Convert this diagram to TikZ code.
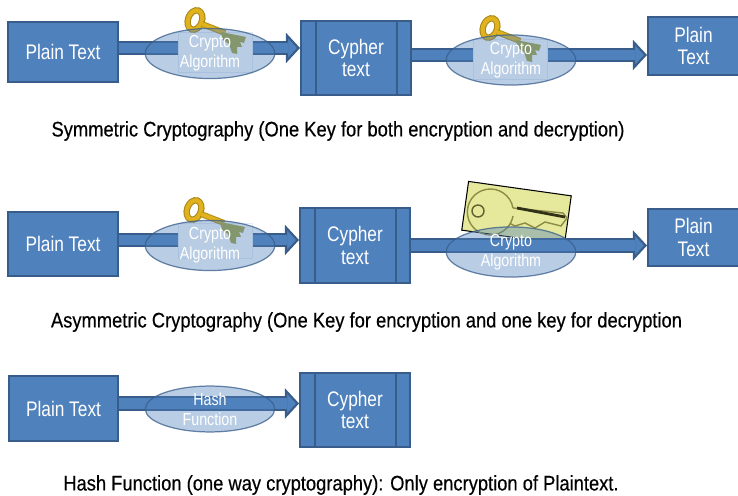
\documentclass[tikz,border=0pt]{standalone}
\usepackage{fontspec}
\setmainfont[FakeStretch=0.82]{Liberation Sans}
\newfontfamily\capfont[FakeStretch=0.87,FakeBold=0.4]{Liberation Sans}
\usepackage{xcolor}
\usetikzlibrary{shapes,arrows,positioning,calc,arrows.meta}

\definecolor{boxblue}{HTML}{4F81BD}
\definecolor{edgeblue}{HTML}{385D8A}
\definecolor{keygold}{HTML}{E0B31E}
\definecolor{keyolive}{HTML}{A6A43A}
\definecolor{cardyellow}{HTML}{E6E99C}
\definecolor{cardline}{HTML}{8C8C45}

\tikzset{
    plainbox/.style={draw=edgeblue, line width=1.3pt, fill=boxblue, text=white, align=center,
        font=\fontsize{12}{12.6}\selectfont, inner sep=0pt},
    cypherbox/.style={plainbox, minimum width=62.4pt, minimum height=42pt,
        path picture={
            \draw[edgeblue, line width=1.3pt] ([xshift=8.6pt]path picture bounding box.north west) -- ([xshift=8.6pt]path picture bounding box.south west);
            \draw[edgeblue, line width=1.3pt] ([xshift=-8pt]path picture bounding box.north east) -- ([xshift=-8pt]path picture bounding box.south east);
        }},
    algo/.style={ellipse, draw=edgeblue, line width=0.7pt, fill=boxblue, fill opacity=0.4, draw opacity=0.75, text opacity=1,
        text=white, align=center, font=\fontsize{9.9}{11.2}\selectfont, inner sep=0pt, minimum width=73.7pt},
    gapbox/.style={draw=boxblue!15, line width=0.3pt, fill=white, inner sep=0pt, minimum width=42pt},
    flowarrow/.style={edgeblue, line width=8pt,
        -{Triangle[width=17pt, length=8pt, line width=1.2pt, fill=boxblue, color=edgeblue]},
        postaction={draw=boxblue, line width=5.8pt, -, shorten >=7pt}},
    caption/.style={font=\capfont\fontsize{12}{12}\selectfont, text=black, inner sep=0pt},
    goldkey/.pic={
        \draw[keygold!75!black, line width=3.6pt, rotate=-20] (0,0) ellipse (7 and 10);
        \draw[keygold, line width=2.4pt, rotate=-20] (0,0) ellipse (7 and 10);
        \draw[keygold!80!black, line width=3.4pt] (7,4) -- (30,13);
        \draw[keygold, line width=2.2pt] (7,4) -- (30,13);
        \fill[keyolive] (26,12) -- (51,17) -- (49,23) -- (45,22) -- (47,27) -- (42,27) -- (42,34) -- (37,33) -- (34,24) -- (28,20) -- cycle;
    },
    cardkey/.pic={
        \draw[cardline, line width=0.8pt] (23,-4) arc (-10:-350:23) (23,-4) -- (73,1) -- (77,6) -- (71,14) -- (55,10) -- (45,16) -- (35,11) -- (25,14) -- (21,12);
        \draw[cardline!70!black, line width=0.8pt] (-12,-1) circle (6);
        \draw[black!65!cardline, line width=1.6pt] (27,-4) -- (75,5);
    }
}

\begin{document}
\begin{tikzpicture}[x=0.02cm, y=-0.02cm]
    \useasboundingbox (0,0) rectangle (738,496);

    % first row
    \node[plainbox, minimum width=62.4pt, minimum height=34pt] (plainA) at (63,52) {Plain Text};
    \node[cypherbox, minimum height=42pt] (cypherA) at (356,58) {Cypher\\text};
    \node[plainbox, minimum width=51.6pt, minimum height=32.9pt, anchor=west] (plainB) at (647,46) {Plain\\Text};
    \coordinate (levelA) at (0,48);
    \coordinate (levelB) at (0,55);
    \draw[flowarrow] (plainA.east |- levelA) -- (cypherA.west |- levelA);
    \draw[flowarrow] (cypherA.east |- levelB) -- (plainB.west |- levelB);
    \node[gapbox, minimum height=23pt] (gapA) at (215,52) {};
    \node[gapbox, minimum height=23pt] (gapB) at (510,59) {};
    \pic at (195,20) {goldkey};
    \pic at (490,28) {goldkey};
    \node[algo, minimum height=25.5pt] (algoA) at (210,53.5) {Crypto\\Algorithm};
    \node[algo, minimum height=26pt] (algoB) at (511,60) {Crypto\\Algorithm};
    \node[caption] (capA) at (338,131) {Symmetric Cryptography (One Key for both encryption and decryption)};

    % second row
    \node[plainbox, minimum width=62.4pt, minimum height=36.3pt] (plainC) at (63,244) {Plain Text};
    \node[cypherbox, minimum height=42.5pt] (cypherB) at (355,245.5) {Cypher\\text};
    \node[plainbox, minimum width=51.6pt, minimum height=32.3pt, anchor=west] (plainD) at (647,237.5) {Plain\\Text};
    \coordinate (levelC) at (0,240);
    \coordinate (levelD) at (0,245.5);
    \draw[flowarrow] (plainC.east |- levelC) -- (cypherB.west |- levelC);
    \node[gapbox, minimum height=20pt] (gapC) at (215,241) {};
    \pic at (194,210) {goldkey};
    \node[draw=black, line width=0.6pt, fill=cardyellow, minimum width=59pt, minimum height=28pt, rotate=-8, inner sep=0pt] (card) at (516.5,213) {};
    \pic at (490,212) {cardkey};
    \draw[flowarrow] (cypherB.east |- levelD) -- (plainD.west |- levelD);
    \node[algo, minimum height=25.5pt] (algoC) at (210,245.5) {Crypto\\Algorithm};
    \node[algo, minimum height=26.6pt] (algoD) at (511,252) {Crypto\\Algorithm};
    \node[caption] (capB) at (366.5,322) {Asymmetric Cryptography (One Key for encryption and one key for decryption};

    % third row
    \node[plainbox, minimum width=62.4pt, minimum height=36.8pt] (plainE) at (63.5,408.5) {Plain Text};
    \node[cypherbox, minimum height=42pt] (cypherC) at (355,410) {Cypher\\text};
    \coordinate (levelE) at (0,403.5);
    \draw[flowarrow] (plainE.east |- levelE) -- (cypherC.west |- levelE);
    \node[algo, minimum height=26pt] (algoE) at (210,409) {Hash\\Function};
    \node[caption] (capC) at (341,485) {Hash Function (one way cryptography): Only encryption of Plaintext.};
\end{tikzpicture}
\end{document}
